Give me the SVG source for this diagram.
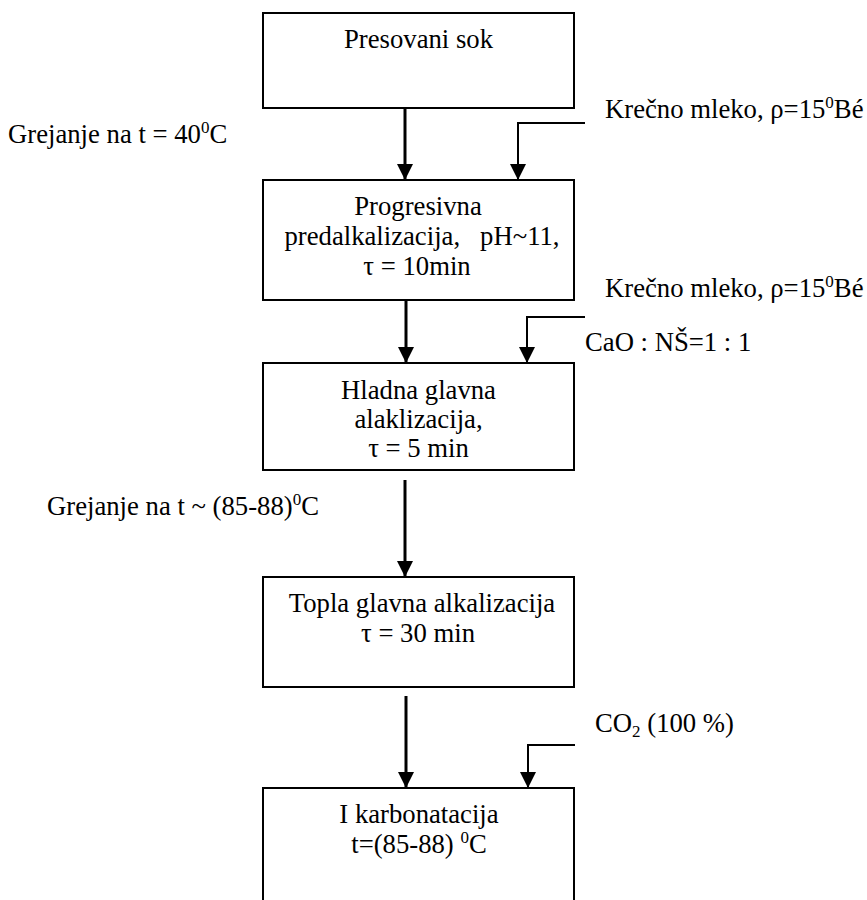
<svg xmlns="http://www.w3.org/2000/svg" width="867" height="900" viewBox="0 0 867 900">
<style>
text{font-family:'Liberation Serif','Times New Roman',serif;font-size:26.7px;fill:#000}
.c{text-anchor:middle}
.box{fill:#fff;stroke:#000;stroke-width:2}
.flow{fill:none;stroke:#000;stroke-width:3}
.side{fill:none;stroke:#000;stroke-width:2}
.sup{font-size:17px}
</style>
<defs>
<marker id="ah" viewBox="0 0 16 16" refX="16" refY="8" markerWidth="16" markerHeight="16" markerUnits="userSpaceOnUse" orient="auto">
<path d="M0,0 L16,8 L0,16 z" fill="#000"/>
</marker>
</defs>
<rect width="867" height="900" fill="#fff"/>

<g id="n1">
<rect class="box" x="263" y="13" width="311" height="95"/>
<text class="c" x="418.5" y="48">Presovani sok</text>
</g>

<g id="n2">
<rect class="box" x="263" y="180" width="311" height="120"/>
<text class="c" x="418" y="215">Progresivna</text>
<text class="c" x="422" y="245" xml:space="preserve">predalkalizacija,   pH~11,</text>
<text class="c" x="417" y="275">τ = 10min</text>
</g>

<g id="n3">
<rect class="box" x="263" y="363" width="311" height="107"/>
<text class="c" x="418.5" y="399">Hladna glavna</text>
<text class="c" x="418.5" y="428">alaklizacija,</text>
<text class="c" x="418.5" y="457">τ = 5 min</text>
</g>

<g id="n4">
<rect class="box" x="263" y="577" width="311" height="110"/>
<text class="c" x="422" y="612">Topla glavna alkalizacija</text>
<text class="c" x="418" y="642">τ = 30 min</text>
</g>

<g id="n5">
<path class="box" d="M263,901 V788 H574 V901"/>
<text class="c" x="419" y="823">I karbonatacija</text>
<text class="c" x="419" y="853">t=(85-88) <tspan class="sup" dy="-10">0</tspan><tspan dy="10">C</tspan></text>
</g>

<g id="labels">
<text x="8" y="143">Grejanje na t = 40<tspan class="sup" dy="-10">0</tspan><tspan dy="10">C</tspan></text>
<text x="605" y="118">Krečno mleko, ρ=15<tspan class="sup" dy="-10">0</tspan><tspan dy="10">Bé</tspan></text>
<text x="605" y="297">Krečno mleko, ρ=15<tspan class="sup" dy="-10">0</tspan><tspan dy="10">Bé</tspan></text>
<text x="585" y="351">CaO : NŠ=1 : 1</text>
<text x="47" y="515">Grejanje na t ~ (85-88)<tspan class="sup" dy="-10">0</tspan><tspan dy="10">C</tspan></text>
<text x="595" y="732">CO<tspan class="sup" dy="5">2</tspan><tspan dy="-5"> (100 %)</tspan></text>
</g>

<g id="connectors">
<line class="flow" x1="405" y1="108" x2="405" y2="180" marker-end="url(#ah)"/>
<polyline class="side" points="585,123 518,123 518,180" marker-end="url(#ah)"/>
<line class="flow" x1="406" y1="300" x2="406" y2="363" marker-end="url(#ah)"/>
<polyline class="side" points="585,317 527,317 527,363" marker-end="url(#ah)"/>
<line class="flow" x1="405" y1="480" x2="405" y2="577" marker-end="url(#ah)"/>
<line class="flow" x1="406" y1="696" x2="406" y2="788" marker-end="url(#ah)"/>
<polyline class="side" points="575,745 528,745 528,788" marker-end="url(#ah)"/>
</g>
</svg>
